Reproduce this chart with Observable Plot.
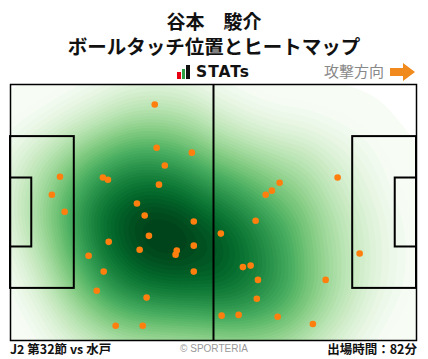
<!DOCTYPE html>
<html><head><meta charset="utf-8">
<script src="https://cdn.jsdelivr.net/npm/d3@7"></script>
<script src="https://cdn.jsdelivr.net/npm/@observablehq/plot@0.6"></script>
<style>
body{margin:0;background:#fff;font-family:"Noto Sans CJK JP","Noto Sans",sans-serif;}
#wrap{position:relative;width:428px;height:359px;overflow:hidden;}
.t{position:absolute;white-space:nowrap;}
</style></head>
<body><div id="wrap">
<div class="t" id="title" style="left:0;width:428px;top:11px;text-align:center;font-weight:bold;font-size:19px;line-height:20px;color:#111;"></div>
<div class="t" id="subtitle" style="left:0;width:428px;top:36px;text-align:center;font-weight:bold;font-size:19.5px;line-height:20px;color:#111;"></div>
<div class="t" style="left:176px;top:64px;height:18px;">
  <span style="position:absolute;left:1px;top:8px;width:3.5px;height:7px;background:#e60012"></span>
  <span style="position:absolute;left:5.5px;top:5px;width:3.5px;height:10px;background:#2ea043"></span>
  <span style="position:absolute;left:10px;top:1px;width:3.5px;height:14px;background:#111"></span>
  <span id="stats" style="position:absolute;left:20px;top:-1px;font-family:'DejaVu Sans',sans-serif;font-weight:bold;font-size:15.5px;line-height:18px;color:#111;letter-spacing:1px"></span>
</div>
<div class="t" id="dir" style="left:324px;top:61px;font-size:15px;line-height:20px;color:#888;"></div>
<svg class="t" style="left:390px;top:63px" width="26" height="18"><path d="M0,5 H13 V0 L25,9 L13,18 V13 H0 Z" fill="#f08a1c"/></svg>
<div id="chart" class="t" style="left:0;top:0"></div>
<div class="t" id="f1" style="left:10px;top:340px;font-weight:bold;font-size:12.5px;line-height:18px;color:#111;"></div>
<div class="t" id="f2" style="left:0;width:428px;top:341px;text-align:center;font-size:10px;line-height:16px;color:#999;font-family:'Liberation Sans',sans-serif"></div>
<div class="t" id="f3" style="right:11px;top:340px;font-weight:bold;font-size:12.5px;line-height:18px;color:#111;"></div>
</div>
<script>
const titleText = "谷本　駿介";
const subtitleText = "ボールタッチ位置とヒートマップ";
const logoText = "STATs";
const directionText = "攻撃方向";
const footerLeft = "J2 第32節 vs 水戸";
const footerCenter = "© SPORTERIA";
const footerRight = "出場時間：82分";

// touch positions in metres (x: 0..105 attacking right, y: 0..68 from top)
const touchX = [37.3,37.8,46.9,39.9,12.8,23.9,25.2,38.4,10.7,14.0,32.7,34.7,47.4,35.8,25.4,33.4,43.0,42.7,47.4,20.2,24.1,47.4,22.3,35.2,27.2,34.2,84.6,69.6,67.6,66.0,63.4,54.4,90.3,60.1,62.1,64.0,81.5,63.7,54.6,59.0,69.1,78.2];
const touchY = [5.3,16.8,18.1,21.5,24.5,24.7,25.3,26.6,29.3,33.8,31.6,34.8,36.4,40.2,41.8,43.9,44.1,45.2,42.8,45.5,49.7,49.7,54.8,56.6,64.1,64.1,24.7,26.1,28.2,29.3,36.2,39.6,44.9,48.5,48.1,51.9,51.9,56.9,61.4,61.2,61.7,63.6];

// pitch markings (metres)
const pitchLength = 105, pitchWidth = 68;
const boxes = [
  {x1:0, x2:16.5, y1:13.84, y2:54.16},
  {x1:0, x2:5.5, y1:24.84, y2:43.16},
  {x1:88.5, x2:105, y1:13.84, y2:54.16},
  {x1:99.5, x2:105, y1:24.84, y2:43.16}
];

document.getElementById("title").textContent = titleText;
document.getElementById("subtitle").textContent = subtitleText;
document.getElementById("stats").textContent = logoText;
document.getElementById("dir").textContent = directionText;
document.getElementById("f1").textContent = footerLeft;
document.getElementById("f2").textContent = footerCenter;
document.getElementById("f3").textContent = footerRight;

const touches = touchX.map((x, i) => ({x, y: touchY[i]}));

const chart = Plot.plot({
  width: 428, height: 359,
  marginTop: 84, marginBottom: 19, marginLeft: 10, marginRight: 12,
  x: {domain: [0, pitchLength], axis: null},
  y: {domain: [0, pitchWidth], axis: null, reverse: true},
  color: {type: "linear", interpolate: t => d3.interpolateGreens(Math.pow(Math.max(0, (t - 0.06) / 0.94), 0.85))},
  style: {background: "transparent"},
  marks: [
    Plot.density(touches, {x: "x", y: "y", fill: "density", bandwidth: 45, thresholds: 50, clip: true}),
    Plot.rect(boxes, {x1: "x1", x2: "x2", y1: "y1", y2: "y2", stroke: "#000", strokeWidth: 2, fill: "none"}),
    Plot.ruleX([pitchLength / 2], {y1: 0, y2: pitchWidth, stroke: "#000", strokeWidth: 2}),
    Plot.frame({stroke: "#000", strokeWidth: 1.5}),
    Plot.dot(touches, {x: "x", y: "y", r: 3.3, fill: "#ff7f0e", stroke: "none"})
  ]
});
document.getElementById("chart").appendChild(chart);
</script>
</body></html>
